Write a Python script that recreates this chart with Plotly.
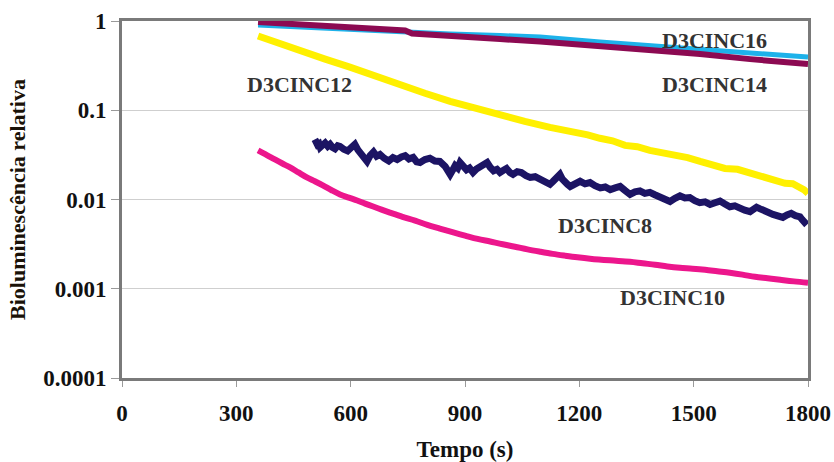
import math
import plotly.graph_objects as go

# Relative bioluminescence decay curves (log scale) versus time
t_c16 = [357, 467, 598, 729, 861, 992, 1097, 1254, 1385, 1517, 1648, 1800]
v_c16 = [0.902, 0.856, 0.813, 0.752, 0.714, 0.687, 0.661, 0.581, 0.528, 0.481, 0.437, 0.394]

t_c14 = [357, 467, 598, 729, 743, 761, 861, 992, 1097, 1254, 1385, 1517, 1648, 1800]
v_c14 = [0.974, 0.925, 0.856, 0.792, 0.782, 0.724, 0.670, 0.628, 0.589, 0.524, 0.472, 0.426, 0.374, 0.329]

t_c12 = [357, 401, 467, 533, 598, 664, 729, 795, 861, 926, 992, 1057, 1123, 1156,
         1189, 1222, 1254, 1287, 1320, 1352, 1385, 1418, 1451, 1484, 1517, 1550,
         1582, 1615, 1648, 1680, 1713, 1740, 1760, 1779, 1790, 1800]
v_c12 = [0.680, 0.581, 0.460, 0.374, 0.304, 0.241, 0.191, 0.155, 0.126, 0.105, 0.0879,
         0.0752, 0.0644, 0.0610, 0.0566, 0.0530, 0.0485, 0.0455, 0.0404, 0.0390, 0.0355,
         0.0338, 0.0312, 0.0295, 0.0267, 0.0248, 0.0223, 0.0218, 0.0196, 0.0185, 0.0163,
         0.0152, 0.0150, 0.0137, 0.0128, 0.0117]

t_c8 = [506, 510, 513, 517, 520, 526, 533, 540, 546, 552, 559, 566, 572, 582, 592, 601,
        611, 619, 627, 635, 643, 651, 660, 668, 677, 688, 700, 711, 722, 733, 743, 753,
        764, 773, 782, 795, 808, 821, 834, 848, 855, 861, 868, 874, 881, 887, 896, 904,
        912, 921, 930, 940, 949, 958, 966, 975, 984, 992, 1001, 1009, 1018, 1026, 1037,
        1048, 1060, 1071, 1084, 1097, 1110, 1123, 1130, 1136, 1142, 1149, 1155, 1162,
        1169, 1176, 1189, 1202, 1215, 1228, 1241, 1255, 1268, 1281, 1294, 1307, 1320,
        1333, 1346, 1359, 1372, 1385, 1398, 1411, 1424, 1438, 1451, 1464, 1477, 1490,
        1503, 1516, 1530, 1543, 1556, 1569, 1582, 1595, 1608, 1621, 1634, 1648, 1656,
        1665, 1673, 1682, 1695, 1708, 1721, 1734, 1745, 1756, 1767, 1779, 1784, 1788,
        1793, 1797]
v_c8 = [0.0472, 0.0440, 0.0410, 0.0420, 0.0384, 0.0405, 0.0430, 0.0395, 0.0415, 0.0385,
        0.0370, 0.0400, 0.0394, 0.0365, 0.0350, 0.0380, 0.0415, 0.0360, 0.0330, 0.0300,
        0.0267, 0.0310, 0.0340, 0.0305, 0.0320, 0.0290, 0.0270, 0.0295, 0.0281, 0.0300,
        0.0310, 0.0285, 0.0296, 0.0265, 0.0260, 0.0280, 0.0290, 0.0270, 0.0267, 0.0235,
        0.0210, 0.0191, 0.0215, 0.0240, 0.0225, 0.0260, 0.0235, 0.0215, 0.0225, 0.0201,
        0.0220, 0.0235, 0.0245, 0.0260, 0.0230, 0.0210, 0.0218, 0.0201, 0.0212, 0.0222,
        0.0200, 0.0191, 0.0205, 0.0200, 0.0185, 0.0177, 0.0180, 0.0168, 0.0158, 0.0148,
        0.0158, 0.0170, 0.0180, 0.0191, 0.0170, 0.0155, 0.0148, 0.0140, 0.0152, 0.0160,
        0.0150, 0.0155, 0.0143, 0.0135, 0.0138, 0.0129, 0.0135, 0.0140, 0.0126, 0.0114,
        0.0122, 0.0125, 0.0117, 0.0120, 0.0113, 0.0108, 0.0100, 0.0095, 0.0103, 0.0110,
        0.0104, 0.0105, 0.0097, 0.0092, 0.0094, 0.0088, 0.0092, 0.0096, 0.0089, 0.0083,
        0.0085, 0.0079, 0.0076, 0.0073, 0.0078, 0.0082, 0.0079, 0.0077, 0.0072, 0.0068,
        0.0066, 0.0063, 0.0067, 0.0070, 0.0066, 0.0064, 0.0060, 0.0058, 0.0056, 0.0052]

t_c10 = [357, 380, 401, 421, 441, 463, 485, 506, 527, 550, 572, 595, 617, 638, 659, 681,
         703, 736, 769, 801, 834, 867, 900, 933, 966, 999, 1031, 1064, 1097, 1130, 1162,
         1195, 1228, 1280, 1333, 1366, 1399, 1431, 1464, 1497, 1530, 1562, 1595, 1628,
         1661, 1694, 1727, 1763, 1800]
v_c10 = [0.0355, 0.0315, 0.0281, 0.0253, 0.0229, 0.0201, 0.0177, 0.0160, 0.0144, 0.0127,
         0.0114, 0.0105, 0.00975, 0.00900, 0.00834, 0.00770, 0.00714, 0.00640, 0.00581,
         0.00520, 0.00472, 0.00430, 0.00394, 0.00362, 0.00338, 0.00315, 0.00296, 0.00276,
         0.00260, 0.00246, 0.00235, 0.00225, 0.00217, 0.00208, 0.00201, 0.00193, 0.00186,
         0.00178, 0.00172, 0.00168, 0.00163, 0.00157, 0.00151, 0.00144, 0.00136, 0.00131,
         0.00126, 0.00121, 0.00117]

x_ticks = [0, 300, 600, 900, 1200, 1500, 1800]
y_ticks = [0.0001, 0.001, 0.01, 0.1, 1]
y_ticktext = ["0.0001", "0.001", "0.01", "0.1", "1"]

# name, times, values, colour, width, line shape
series = [
    ("D3CINC16", t_c16, v_c16, "#1DB2EA", 5, "linear"),
    ("D3CINC14", t_c14, v_c14, "#8C0A52", 6, "linear"),
    ("D3CINC12", t_c12, v_c12, "#FFF000", 7, "linear"),
    ("D3CINC8", t_c8, v_c8, "#1C1464", 7, "linear"),
    ("D3CINC10", t_c10, v_c10, "#EC168C", 6, "spline"),
]

# label text, x (data), y (data)
labels = [
    ("D3CINC16", 1555, 0.60),
    ("D3CINC14", 1555, 0.195),
    ("D3CINC12", 466, 0.196),
    ("D3CINC8", 1267, 0.0051),
    ("D3CINC10", 1445, 0.00079),
]

serif = "Liberation Serif, Times New Roman, serif"

fig = go.Figure()
for name, t, v, color, width, shape in series:
    fig.add_trace(go.Scatter(
        x=t, y=v, mode="lines", name=name,
        line=dict(color=color, width=width, shape=shape),
        showlegend=False,
    ))

# annotations on a log axis take log10 positions
for text, x, y in labels:
    fig.add_annotation(
        x=x, y=math.log10(y), yref="y", xref="x", text=text, showarrow=False,
        font=dict(family=serif, size=22, color="#333333", weight="bold"),
        xanchor="center", yanchor="middle",
    )

fig.update_layout(
    width=834, height=462,
    margin=dict(l=122, r=26, t=21, b=84),
    paper_bgcolor="white", plot_bgcolor="white",
    font=dict(family=serif, color="#111111"),
)

fig.update_xaxes(
    range=[0, 1800], tickvals=x_ticks, automargin=False,
    showgrid=False, zeroline=False,
    showline=True, mirror=True, linecolor="#7a7a7a", linewidth=3,
    ticks="outside", ticklen=6, tickcolor="#9a9a9a", tickwidth=1,
    tickfont=dict(family=serif, size=23, color="#111111", weight="bold"),
    ticklabelstandoff=6,
    title=dict(text="Tempo (s)", font=dict(family=serif, size=23, color="#111111", weight="bold"),
               standoff=24),
)

fig.update_yaxes(
    type="log", range=[-4, 0], tickvals=y_ticks, ticktext=y_ticktext, automargin=False,
    showgrid=True, gridcolor="#cfcfcf", gridwidth=1, zeroline=False,
    showline=True, mirror=True, linecolor="#7a7a7a", linewidth=3,
    ticks="outside", ticklen=8, tickcolor="#9a9a9a", tickwidth=1,
    tickfont=dict(family=serif, size=23, color="#111111", weight="bold"),
    ticklabelstandoff=0,
    title=dict(text="Bioluminescência relativa",
               font=dict(family=serif, size=22, color="#1a1208", weight="bold"),
               standoff=12),
)

fig.write_html("out.html")
